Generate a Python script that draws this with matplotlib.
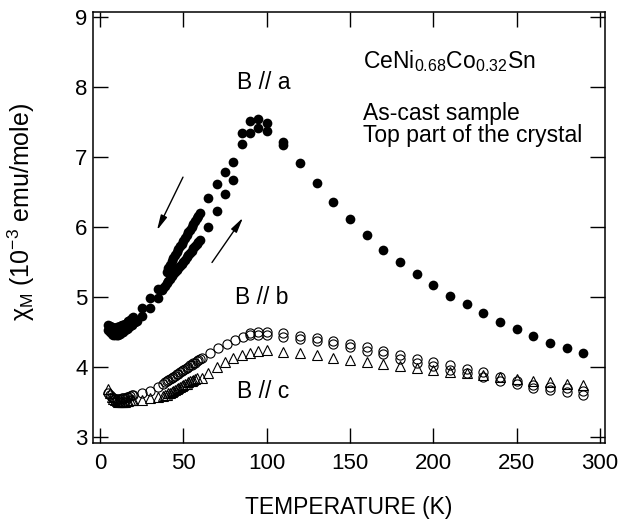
import matplotlib
matplotlib.use("Agg")
import matplotlib.pyplot as plt

plt.rcParams['font.family'] = ['Liberation Sans', 'DejaVu Sans']
plt.rcParams['mathtext.fontset'] = 'custom'
plt.rcParams['mathtext.rm'] = 'Liberation Sans'
plt.rcParams['mathtext.it'] = 'Liberation Sans:italic'

# ---- B // a (filled circles) ----
a_warm_T = [5, 6, 7, 8, 9, 10, 11, 12, 13, 14, 15, 16, 17, 18, 19, 20, 21, 22,
            25, 30, 35,
            37, 38, 39, 40, 41, 42, 43, 44, 45, 46, 47, 48, 49, 50, 51, 52, 53, 54,
            55, 56, 57, 58, 59, 60,
            65, 70, 75, 80, 85, 90, 95, 100, 110,
            120, 130, 140, 150, 160, 170, 180, 190, 200, 210, 220, 230, 240, 250,
            260, 270, 280, 290]
a_warm_chi = [4.52, 4.49, 4.47, 4.46, 4.45, 4.46, 4.46, 4.47, 4.49, 4.50, 4.52, 4.54,
              4.56, 4.58, 4.60, 4.62, 4.64, 4.66,
              4.73, 4.84, 4.98,
              5.10, 5.13, 5.16, 5.19, 5.22, 5.26, 5.29, 5.32, 5.35, 5.38, 5.41, 5.44,
              5.47, 5.50, 5.53, 5.57, 5.60, 5.63, 5.66, 5.69, 5.72, 5.75, 5.78, 5.81,
              6.00, 6.22, 6.47, 6.67, 7.18, 7.34, 7.41, 7.37, 7.17,
              6.91, 6.63, 6.36, 6.11, 5.89, 5.67, 5.49, 5.33, 5.17, 5.01, 4.90, 4.77,
              4.64, 4.54, 4.44, 4.34, 4.27, 4.20]

a_cool_T = [110, 100, 95, 90, 85, 80, 75, 70, 65,
            60, 59, 58, 57, 56, 55, 54, 53, 52, 51, 50, 49, 48, 47, 46, 45, 44, 43,
            42, 41, 40,
            35, 30, 25,
            20, 19, 18, 17, 16, 15, 14, 13, 12, 11, 10, 9, 8, 7, 6, 5]
a_cool_chi = [7.21, 7.49, 7.54, 7.51, 7.34, 6.93, 6.78, 6.61, 6.41,
              6.20, 6.16, 6.12, 6.08, 6.04, 6.00, 5.96, 5.92, 5.88, 5.84, 5.80, 5.76,
              5.72, 5.68, 5.64, 5.60, 5.56, 5.51, 5.46, 5.41, 5.36,
              5.11, 4.98, 4.84,
              4.71, 4.69, 4.67, 4.65, 4.63, 4.61, 4.60, 4.59, 4.58, 4.57, 4.57, 4.56,
              4.56, 4.57, 4.58, 4.60]

# ---- B // b (open circles) ----
b_T = [5, 6, 7, 8, 9, 10, 11, 12, 13, 14, 15, 16, 17, 18, 19, 20, 25, 30, 35,
       38, 39, 40, 41, 42, 43, 44, 45, 46, 47, 48, 49, 50, 51, 52, 53, 54, 55, 56,
       57, 58, 59, 60, 61,
       66, 71, 76, 81, 86, 90, 95, 100, 110, 120, 130, 140, 150, 160, 170, 180,
       190, 200, 210, 220, 230, 240, 250, 260, 270, 280, 290]
b_chi = [3.62, 3.59, 3.57, 3.55, 3.54, 3.54, 3.54, 3.54, 3.55, 3.55, 3.56, 3.57,
         3.57, 3.58, 3.59, 3.60, 3.63, 3.66, 3.71,
         3.76, 3.78, 3.79, 3.81, 3.82, 3.84, 3.86, 3.87, 3.89, 3.90, 3.92, 3.94,
         3.95, 3.97, 3.98, 4.00, 4.02, 4.03, 4.05, 4.06, 4.08, 4.10, 4.11, 4.13,
         4.20, 4.27, 4.32, 4.38, 4.43, 4.48, 4.50, 4.50, 4.48, 4.44, 4.41, 4.37,
         4.33, 4.28, 4.23, 4.17, 4.11, 4.07, 4.02, 3.97, 3.92, 3.86, 3.80, 3.74,
         3.71, 3.69, 3.65]
b2_T = [90, 95, 100, 110, 120, 130, 140, 150, 160, 170, 180, 190, 200, 210, 220,
        230, 240, 250, 260, 270, 280, 290]
b2_chi = [4.45, 4.46, 4.46, 4.43, 4.39, 4.37, 4.33, 4.28, 4.22, 4.18, 4.11, 4.05,
          4.01, 3.96, 3.91, 3.86, 3.80, 3.75, 3.69, 3.67, 3.64, 3.60]

# ---- B // c (open triangles) ----
c_T = [5, 6, 7, 8, 9, 10, 11, 12, 13, 14, 15, 16, 17, 18, 19, 20, 25, 30, 35,
       38, 39, 40, 41, 42, 43, 44, 45, 46, 47, 48, 49, 50, 51, 52, 53, 54, 55, 56,
       57, 58,
       61, 65, 70, 75, 80, 85, 90, 95, 100, 110, 120, 130, 140, 150, 160, 170,
       180, 190, 200, 210, 220, 230, 240, 250, 260, 270, 280, 290]
c_chi = [3.68, 3.62, 3.57, 3.54, 3.52, 3.51, 3.50, 3.50, 3.50, 3.50, 3.50, 3.51,
         3.51, 3.52, 3.52, 3.53, 3.53, 3.56, 3.57,
         3.58, 3.59, 3.60, 3.62, 3.63, 3.64, 3.66, 3.67, 3.68, 3.70, 3.71, 3.72,
         3.74, 3.75, 3.76, 3.78, 3.79, 3.80, 3.81, 3.83, 3.84,
         3.84, 3.91, 3.99, 4.07, 4.13, 4.17, 4.20, 4.22, 4.24, 4.21, 4.20, 4.17,
         4.13, 4.10, 4.07, 4.04, 4.01, 3.98, 3.96, 3.93, 3.91, 3.88, 3.85, 3.83,
         3.80, 3.78, 3.76, 3.74]

x_ticks = [0, 50, 100, 150, 200, 250, 300]
y_ticks = [3, 4, 5, 6, 7, 8, 9]

fig = plt.figure(figsize=(6.22, 5.23), dpi=100)
ax = fig.add_axes([0.1495, 0.153, 0.8232, 0.824])

ax.plot(a_warm_T, a_warm_chi, 'o', color='black', ms=7.0, mew=0, ls='none')
ax.plot(a_cool_T, a_cool_chi, 'o', color='black', ms=7.0, mew=0, ls='none')
ax.plot(b_T, b_chi, 'o', mfc='none', mec='black', ms=6.6, mew=0.8, ls='none')
ax.plot(b2_T, b2_chi, 'o', mfc='none', mec='black', ms=6.6, mew=0.8, ls='none')
ax.plot(c_T, c_chi, '^', mfc='none', mec='black', ms=6.8, mew=0.8, ls='none')

ax.set_xlim(-4.2, 303)
ax.set_ylim(2.91, 9.07)
ax.set_xticks(x_ticks)
ax.set_yticks(y_ticks)
ax.tick_params(direction='in', length=11, width=1, top=True, right=True,
               labelsize=16)
ax.tick_params(axis='x', pad=7)
ax.tick_params(axis='y', pad=4)
for s in ax.spines.values():
    s.set_linewidth(1.1)

ax.set_xlabel('TEMPERATURE (K)', fontsize=16.5, labelpad=16)
ax.set_ylabel(r'χ$_\mathrm{M}$ (10$^{-3}$ emu/mole)', fontsize=18)
ax.yaxis.set_label_coords(-0.11, 0.536)

tkw = dict(fontsize=16.5, ha='left', va='baseline')
ax.text(157.5, 8.27, r'CeNi$_{\mathrm{0.68}}$Co$_{\mathrm{0.32}}$Sn', **tkw)
ax.text(157.5, 7.53, 'As-cast sample', **tkw)
ax.text(157.5, 7.21, 'Top part of the crystal', **tkw)

ax.text(82, 8.06, 'B // a', fontsize=16.5, ha='left', va='center')
ax.text(81, 4.99, 'B // b', fontsize=16.5, ha='left', va='center')
ax.text(82, 3.64, 'B // c', fontsize=16.5, ha='left', va='center')

apr = dict(arrowstyle='-|>,head_length=0.9,head_width=0.2', lw=1, color='black',
           shrinkA=0, shrinkB=0)
ax.annotate('', xy=(34.2, 5.95), xytext=(49.8, 6.71), arrowprops=apr)
ax.annotate('', xy=(85.8, 6.13), xytext=(67.2, 5.49), arrowprops=apr)

fig.savefig('out.png', dpi=100)
